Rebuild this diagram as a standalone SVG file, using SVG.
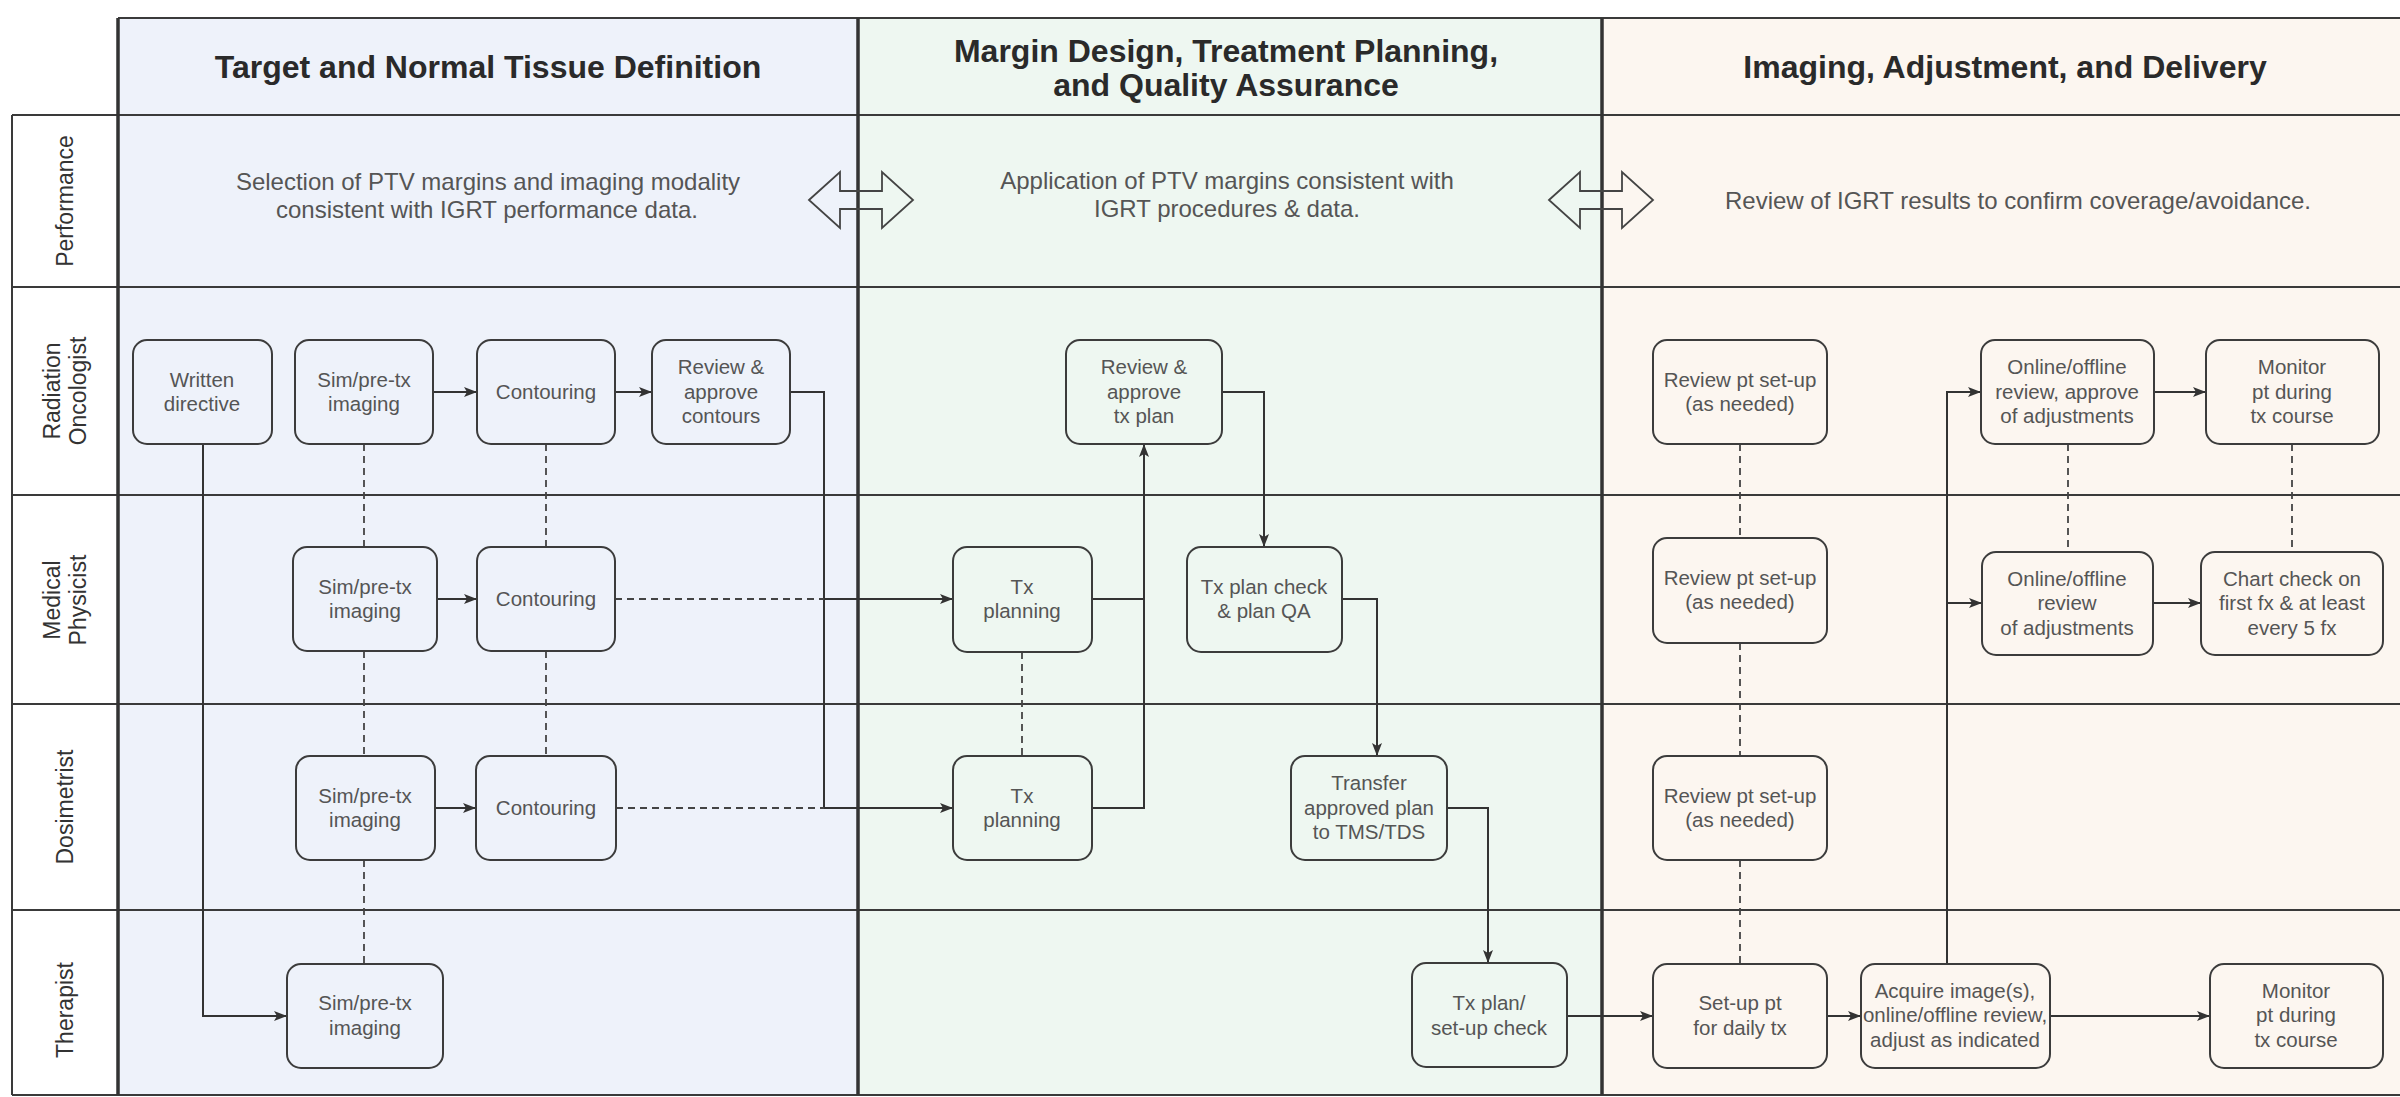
<svg xmlns="http://www.w3.org/2000/svg" width="2400" height="1097" viewBox="0 0 2400 1097">
<defs>
<style>
.bg1{fill:#EEF2FA}.bg2{fill:#EEF7F1}.bg3{fill:#FCF6F0}
.ln{stroke:#3a3a3a;stroke-width:2;fill:none}
.thick{stroke:#333;stroke-width:3.5;fill:none}
.box rect{fill:none;stroke:#3c3c3c;stroke-width:2}
.box text{font-family:"Liberation Sans",Arial,Helvetica,sans-serif;font-size:20.5px;fill:#555;text-anchor:middle}
.edge{fill:none;stroke:#333;stroke-width:2}
.dash{fill:none;stroke:#444;stroke-width:1.8;stroke-dasharray:7 5}
.title{font-family:"Liberation Sans",Arial,Helvetica,sans-serif;font-weight:bold;font-size:32px;fill:#2a2a2a;text-anchor:middle}
.perf{font-family:"Liberation Sans",Arial,Helvetica,sans-serif;font-size:24px;fill:#555;text-anchor:middle}
.lane{font-family:"Liberation Sans",Arial,Helvetica,sans-serif;font-size:23px;fill:#333;text-anchor:middle}
.dbl{fill:none;stroke:#444;stroke-width:1.8;stroke-linejoin:miter}
</style>
<marker id="arr" markerUnits="userSpaceOnUse" markerWidth="14" markerHeight="12" refX="13" refY="6" orient="auto">
<path d="M0,1 L13,6 L0,11 L3,6 z" fill="#333"/>
</marker>
</defs>
<rect x="0" y="0" width="2400" height="1097" fill="#fff"/>
<g id="pool">
<rect class="bg1" x="118" y="18" width="740" height="1077"/>
<rect class="bg2" x="858" y="18" width="744" height="1077"/>
<rect class="bg3" x="1602" y="18" width="820" height="1077"/>
<path class="ln" d="M118,18 H2400 M12,115 H2400 M12,287 H2400 M12,495 H2400 M12,704 H2400 M12,910 H2400 M12,1095 H2400 M12,115 V1095"/>
<path class="thick" d="M118,18 V1095 M858,18 V1095 M1602,18 V1095"/>
</g>
<g id="titles">
<text class="title" x="488" y="78">Target and Normal Tissue Definition</text>
<text class="title" x="1226" y="62">Margin Design, Treatment Planning,</text>
<text class="title" x="1226" y="96">and Quality Assurance</text>
<text class="title" x="2005" y="78">Imaging, Adjustment, and Delivery</text>
</g>
<g id="lane-labels">
<text class="lane" transform="translate(65,201) rotate(-90)" y="8">Performance</text>
<text class="lane" transform="translate(65,391) rotate(-90)"><tspan x="0" y="-5">Radiation</tspan><tspan x="0" y="21">Oncologist</tspan></text>
<text class="lane" transform="translate(65,600) rotate(-90)"><tspan x="0" y="-5">Medical</tspan><tspan x="0" y="21">Physicist</tspan></text>
<text class="lane" transform="translate(65,807) rotate(-90)" y="8">Dosimetrist</text>
<text class="lane" transform="translate(65,1010) rotate(-90)" y="8">Therapist</text>
</g>
<g id="performance">
<text class="perf" x="488" y="190">Selection of PTV margins and imaging modality</text>
<text class="perf" x="487" y="218">consistent with IGRT performance data.</text>
<text class="perf" x="1227" y="189">Application of PTV margins consistent with</text>
<text class="perf" x="1227" y="217">IGRT procedures &amp; data.</text>
<text class="perf" x="2018" y="209">Review of IGRT results to confirm coverage/avoidance.</text>
<polygon id="dbl1" class="dbl" points="809,200 840,172 840,191 882,191 882,172 913,200 882,228 882,209 840,209 840,228"/>
<polygon id="dbl2" class="dbl" points="1549,200 1580,172 1580,191 1622,191 1622,172 1653,200 1622,228 1622,209 1580,209 1580,228"/>
</g>
<g id="connectors">
<path class="edge" d="M203,444 V1016 H287" marker-end="url(#arr)"/>
<path class="edge" d="M433,392 H477" marker-end="url(#arr)"/>
<path class="edge" d="M615,392 H652" marker-end="url(#arr)"/>
<path class="edge" d="M437,599 H477" marker-end="url(#arr)"/>
<path class="edge" d="M435,808 H476" marker-end="url(#arr)"/>
<path class="edge" d="M790,392 H824 V808 H953" marker-end="url(#arr)"/>
<path class="dash" d="M615,599 H824"/>
<path class="edge" d="M824,599 H953" marker-end="url(#arr)"/>
<path class="dash" d="M616,808 H824"/>
<path class="edge" d="M1092,599 H1144 V444" marker-end="url(#arr)"/>
<path class="edge" d="M1092,808 H1144 V599"/>
<path class="edge" d="M1222,392 H1264 V547" marker-end="url(#arr)"/>
<path class="edge" d="M1342,599 H1377 V756" marker-end="url(#arr)"/>
<path class="edge" d="M1447,808 H1488 V963" marker-end="url(#arr)"/>
<path class="edge" d="M1567,1016 H1653" marker-end="url(#arr)"/>
<path class="edge" d="M1827,1016 H1861" marker-end="url(#arr)"/>
<path class="edge" d="M2050,1016 H2210" marker-end="url(#arr)"/>
<path class="edge" d="M1947,964 V392 H1981" marker-end="url(#arr)"/>
<path class="edge" d="M1947,603 H1982" marker-end="url(#arr)"/>
<path class="edge" d="M2154,392 H2206" marker-end="url(#arr)"/>
<path class="edge" d="M2153,603 H2201" marker-end="url(#arr)"/>
<path class="dash" d="M364,444 V547 M364,651 V756 M364,860 V964"/>
<path class="dash" d="M546,444 V547 M546,651 V756"/>
<path class="dash" d="M1022,652 V756"/>
<path class="dash" d="M1740,444 V538 M1740,643 V756 M1740,860 V964"/>
<path class="dash" d="M2068,444 V552"/>
<path class="dash" d="M2292,444 V552"/>
</g>
<g id="n-written" class="box"><rect x="133" y="340" width="139" height="104" rx="14"/><text x="202" y="387">Written</text><text x="202" y="411">directive</text></g>
<g id="n-ro-sim" class="box"><rect x="295" y="340" width="138" height="104" rx="14"/><text x="364" y="387">Sim/pre-tx</text><text x="364" y="411">imaging</text></g>
<g id="n-ro-contour" class="box"><rect x="477" y="340" width="138" height="104" rx="14"/><text x="546" y="399">Contouring</text></g>
<g id="n-ro-review-contours" class="box"><rect x="652" y="340" width="138" height="104" rx="14"/><text x="721" y="374">Review &amp;</text><text x="721" y="399">approve</text><text x="721" y="423">contours</text></g>
<g id="n-mp-sim" class="box"><rect x="293" y="547" width="144" height="104" rx="14"/><text x="365" y="594">Sim/pre-tx</text><text x="365" y="618">imaging</text></g>
<g id="n-mp-contour" class="box"><rect x="477" y="547" width="138" height="104" rx="14"/><text x="546" y="606">Contouring</text></g>
<g id="n-dos-sim" class="box"><rect x="296" y="756" width="139" height="104" rx="14"/><text x="365" y="803">Sim/pre-tx</text><text x="365" y="827">imaging</text></g>
<g id="n-dos-contour" class="box"><rect x="476" y="756" width="140" height="104" rx="14"/><text x="546" y="815">Contouring</text></g>
<g id="n-ther-sim" class="box"><rect x="287" y="964" width="156" height="104" rx="14"/><text x="365" y="1010">Sim/pre-tx</text><text x="365" y="1035">imaging</text></g>
<g id="n-ro-approve-plan" class="box"><rect x="1066" y="340" width="156" height="104" rx="14"/><text x="1144" y="374">Review &amp;</text><text x="1144" y="399">approve</text><text x="1144" y="423">tx plan</text></g>
<g id="n-mp-planning" class="box"><rect x="953" y="547" width="139" height="105" rx="14"/><text x="1022" y="594">Tx</text><text x="1022" y="618">planning</text></g>
<g id="n-dos-planning" class="box"><rect x="953" y="756" width="139" height="104" rx="14"/><text x="1022" y="803">Tx</text><text x="1022" y="827">planning</text></g>
<g id="n-plan-check" class="box"><rect x="1187" y="547" width="155" height="105" rx="14"/><text x="1264" y="594">Tx plan check</text><text x="1264" y="618">&amp; plan QA</text></g>
<g id="n-transfer" class="box"><rect x="1291" y="756" width="156" height="104" rx="14"/><text x="1369" y="790">Transfer</text><text x="1369" y="815">approved plan</text><text x="1369" y="839">to TMS/TDS</text></g>
<g id="n-setup-check" class="box"><rect x="1412" y="963" width="155" height="104" rx="14"/><text x="1489" y="1010">Tx plan/</text><text x="1489" y="1035">set-up check</text></g>
<g id="n-ro-review-pt" class="box"><rect x="1653" y="340" width="174" height="104" rx="14"/><text x="1740" y="387">Review pt set-up</text><text x="1740" y="411">(as needed)</text></g>
<g id="n-mp-review-pt" class="box"><rect x="1653" y="538" width="174" height="105" rx="14"/><text x="1740" y="585">Review pt set-up</text><text x="1740" y="609">(as needed)</text></g>
<g id="n-dos-review-pt" class="box"><rect x="1653" y="756" width="174" height="104" rx="14"/><text x="1740" y="803">Review pt set-up</text><text x="1740" y="827">(as needed)</text></g>
<g id="n-setup-pt" class="box"><rect x="1653" y="964" width="174" height="104" rx="14"/><text x="1740" y="1010">Set-up pt</text><text x="1740" y="1035">for daily tx</text></g>
<g id="n-acquire" class="box"><rect x="1861" y="964" width="189" height="104" rx="14"/><text x="1955" y="998">Acquire image(s),</text><text x="1955" y="1022">online/offline review,</text><text x="1955" y="1047">adjust as indicated</text></g>
<g id="n-ro-online" class="box"><rect x="1981" y="340" width="173" height="104" rx="14"/><text x="2067" y="374">Online/offline</text><text x="2067" y="399">review, approve</text><text x="2067" y="423">of adjustments</text></g>
<g id="n-ro-monitor" class="box"><rect x="2206" y="340" width="173" height="104" rx="14"/><text x="2292" y="374">Monitor</text><text x="2292" y="399">pt during</text><text x="2292" y="423">tx course</text></g>
<g id="n-mp-online" class="box"><rect x="1982" y="552" width="171" height="103" rx="14"/><text x="2067" y="586">Online/offline</text><text x="2067" y="610">review</text><text x="2067" y="635">of adjustments</text></g>
<g id="n-chart-check" class="box"><rect x="2201" y="552" width="182" height="103" rx="14"/><text x="2292" y="586">Chart check on</text><text x="2292" y="610">first fx &amp; at least</text><text x="2292" y="635">every 5 fx</text></g>
<g id="n-ther-monitor" class="box"><rect x="2210" y="964" width="173" height="104" rx="14"/><text x="2296" y="998">Monitor</text><text x="2296" y="1022">pt during</text><text x="2296" y="1047">tx course</text></g>
</svg>
